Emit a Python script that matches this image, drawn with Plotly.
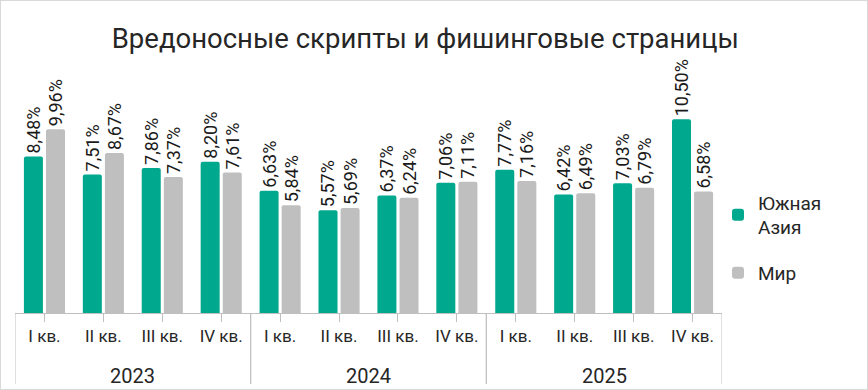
import plotly.graph_objects as go

years = ["2023"] * 4 + ["2024"] * 4 + ["2025"] * 4
quarters = ["I кв.", "II кв.", "III кв.", "IV кв."] * 3
south_asia = [8.48, 7.51, 7.86, 8.20, 6.63, 5.57, 6.37, 7.06, 7.77, 6.42, 7.03, 10.50]
world = [9.96, 8.67, 7.37, 7.61, 5.84, 5.69, 6.24, 7.11, 7.16, 6.49, 6.79, 6.58]

FONT = "Roboto"
W, H = 868, 390
L, R, T, B = 15, 146, 60, 77
pw, ph = W - L - R, H - T - B

cats = [f"{y} {q}" for y, q in zip(years, quarters)]

fig = go.Figure()
for name, vals, color, grp in [("Южная<br>Азия", south_asia, "#00A88E", "a"),
                               ("Мир", world, "#BFBFBF", "b")]:
    fig.add_trace(go.Bar(
        x=cats, y=vals, name=name, legendgroup=grp,
        marker=dict(color=color, line=dict(width=0)),
        texttemplate="%{y:.2f}%", textposition="outside", textangle=-90,
        constraintext="none",
        textfont=dict(family=FONT, size=18, color="#1a1a1a"), cliponaxis=False,
    ))

shapes = [dict(type="rect", xref="paper", yref="paper",
               x0=-L / pw, x1=1 + R / pw, y0=-B / ph, y1=1 + T / ph,
               line=dict(color="#D9D9D9", width=2), layer="below")]
annotations = []
uniq_years = list(dict.fromkeys(years))
for yr in uniq_years:
    idx = [i for i, v in enumerate(years) if v == yr]
    annotations.append(dict(text=yr, xref="x", yref="paper",
                            x=(idx[0] + idx[-1]) / 2, y=-(376 - 313) / ph,
                            xanchor="center", yanchor="middle", showarrow=False,
                            font=dict(family=FONT, size=20, color="#262626")))
    for xb in (idx[0] - 0.5, idx[-1] + 0.5):
        shapes.append(dict(type="line", xref="x", yref="paper", x0=xb, x1=xb,
                           y0=0, y1=-(384 - 313) / ph,
                           line=dict(color="#BFBFBF", width=1)))

fig.update_layout(
    width=W, height=H,
    margin=dict(l=L, r=R, t=T, b=B, autoexpand=False),
    paper_bgcolor="white", plot_bgcolor="white",
    separators=", ",
    barmode="group", bargap=0.25, bargroupgap=0.14, barcornerradius=2,
    title=dict(text="Вредоносные скрипты и фишинговые страницы", x=0.49, xanchor="center",
               y=1 - 38 / H, yanchor="middle",
               font=dict(family=FONT, size=27.5, color="#262626")),
    font=dict(family=FONT, color="#262626"),
    legend=dict(x=(718 - L) / pw, xref="paper", y=1 - (238 - T) / ph, xanchor="left", yanchor="middle",
                font=dict(family=FONT, size=19, color="#262626"),
                tracegroupgap=18),
    showlegend=True,
    xaxis=dict(type="category", showline=True, linecolor="#BFBFBF", linewidth=1,
               ticks="outside", tickcolor="#BFBFBF", ticklen=8, automargin=False,
               tickvals=cats, ticktext=quarters, range=[-0.5, len(cats) - 0.5],
               tickfont=dict(family=FONT, size=17, color="#262626"),
               showgrid=False, zeroline=False),
    yaxis=dict(range=[0, ph / 18.45], visible=False, showgrid=False, zeroline=False,
               automargin=False),
    shapes=shapes,
    annotations=annotations,
)

fig.write_html("out.html", config={"displayModeBar": False},
               post_script="document.body.style.margin='0';")
